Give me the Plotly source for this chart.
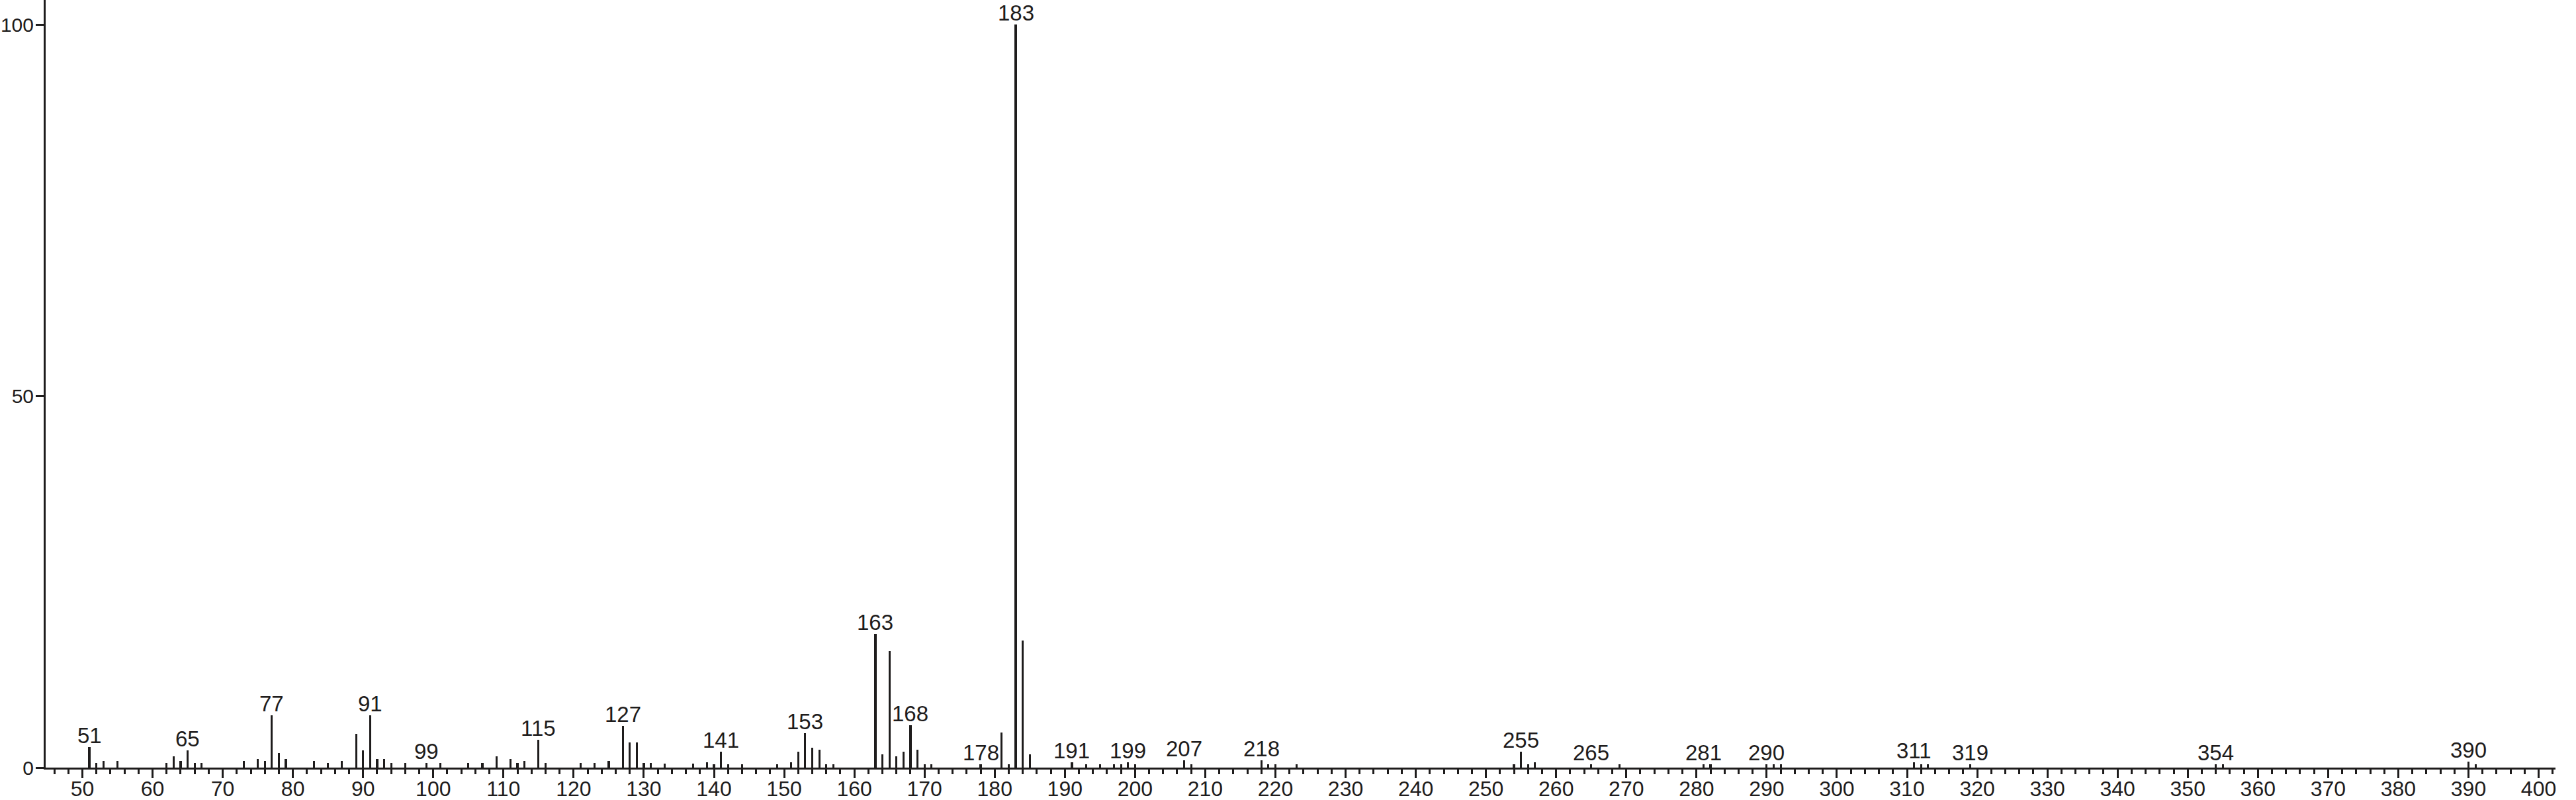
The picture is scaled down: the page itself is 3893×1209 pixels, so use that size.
import plotly.graph_objects as go

# m/z values and relative intensities (%)
mz = [51, 52, 53, 55, 62, 63, 64, 65, 66, 67, 73, 75, 76, 77, 78, 79, 83, 85, 87, 89,
      90, 91, 92, 93, 94, 96, 99, 101, 105, 107, 109, 111, 112, 113, 115, 116, 121, 123,
      125, 127, 128, 129, 130, 131, 133, 137, 139, 140, 141, 142, 144, 149, 151, 152,
      153, 154, 155, 156, 157, 163, 164, 165, 166, 167, 168, 169, 170, 171, 178, 181,
      182, 183, 184, 185, 191, 193, 195, 197, 198, 199, 200, 207, 208, 218, 219, 220,
      223, 254, 255, 256, 257, 265, 269, 281, 282, 290, 291, 292, 311, 312, 313, 319,
      354, 355, 390, 391]
intensity = [2.8, 0.6, 0.9, 0.9, 0.65, 1.5, 0.9, 2.3, 0.65, 0.65, 0.9, 1.2, 0.9, 7.0, 2.0,
             1.2, 0.9, 0.65, 0.9, 4.5, 2.3, 7.0, 1.2, 1.2, 0.65, 0.65, 0.65, 0.65, 0.65,
             0.65, 1.5, 1.2, 0.65, 0.9, 3.7, 0.65, 0.65, 0.65, 0.9, 5.6, 3.4, 3.4, 0.65,
             0.65, 0.5, 0.5, 0.75, 0.45, 2.1, 0.45, 0.45, 0.45, 0.75, 2.1, 4.6, 2.7, 2.4,
             0.45, 0.45, 18.0, 1.8, 15.7, 1.5, 2.1, 5.7, 2.4, 0.45, 0.45, 0.45, 4.7, 0.45,
             100.0, 17.1, 1.8, 0.75, 0.45, 0.45, 0.45, 0.45, 0.75, 0.45, 1.0, 0.45, 1.0,
             0.45, 0.45, 0.45, 0.45, 2.1, 0.45, 0.75, 0.45, 0.45, 0.45, 0.45, 0.45, 0.45,
             0.45, 0.75, 0.45, 0.45, 0.45, 0.45, 0.45, 0.8, 0.45]

# labelled peaks
label_mz = [51, 65, 77, 91, 99, 115, 127, 141, 153, 163, 168, 178, 183, 191, 199, 207,
            218, 255, 265, 281, 290, 311, 319, 354, 390]

x_ticks = list(range(50, 401, 10))
y_ticks = [0, 50, 100]

INK = "#1e1c1c"
FONT = "Liberation Sans, Arial, Helvetica, sans-serif"

lookup = dict(zip(mz, intensity))

fig = go.Figure()
fig.add_trace(go.Bar(x=mz, y=intensity, width=0.3, marker=dict(color=INK, line=dict(width=0)),
                     showlegend=False, hoverinfo="skip"))

for m in label_mz:
    fig.add_annotation(x=m, y=lookup[m], text=str(m), showarrow=False,
                       xanchor="center", yanchor="bottom", yshift=-3,
                       font=dict(family=FONT, size=33, color=INK))

fig.update_layout(
    width=3893, height=1209,
    margin=dict(l=69, r=31, t=0, b=49),
    paper_bgcolor="white", plot_bgcolor="white",
    bargap=0,
    font=dict(family=FONT, color=INK),
)
fig.update_xaxes(
    range=[44.77, 402.4], tickvals=x_ticks, ticktext=[str(v) for v in x_ticks],
    showgrid=False, zeroline=False, showline=True, linecolor=INK, linewidth=3,
    ticks="outside", ticklen=13, tickwidth=3, tickcolor=INK,
    tickfont=dict(family=FONT, size=32, color=INK),
    ticklabelstandoff=-11,
    minor=dict(dtick=2, tick0=0, ticks="outside", ticklen=7, tickwidth=3, tickcolor=INK, showgrid=False),
    automargin=False,
)
fig.update_yaxes(
    range=[0, 103.34], tickvals=y_ticks, ticktext=[str(v) for v in y_ticks],
    showgrid=False, zeroline=False, showline=True, linecolor=INK, linewidth=3,
    ticks="outside", ticklen=12, tickwidth=3, tickcolor=INK,
    tickfont=dict(family=FONT, size=30, color=INK),
    ticklabelstandoff=-3,
    automargin=False,
)

fig.write_html("out.html", config={"displayModeBar": False},
               post_script="document.body.style.margin='0';document.body.style.overflow='hidden';")
